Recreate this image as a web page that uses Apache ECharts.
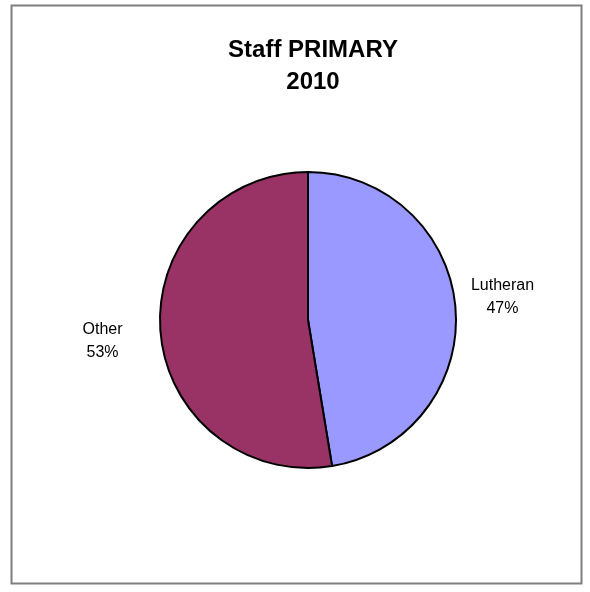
<!DOCTYPE html>
<html>
<head>
<meta charset="utf-8">
<script src="https://cdn.jsdelivr.net/npm/echarts@6/dist/echarts.min.js"></script>
<style>
html,body{margin:0;padding:0;background:#fff;}
#chart{width:590px;height:592px;}
</style>
</head>
<body>
<div id="chart"></div>
<script>
var titleText = 'Staff PRIMARY\n2010';
var categories = ['Lutheran', 'Other'];
var values = [47.4, 52.6];
var colors = ['#9999FF', '#993366'];

// per-slice label placement (style only)
var labelLineLengths = [6, 17];
var labelPaddings = [[0, 0, 20, 0], [15, 0, 0, 0]];

var FONT = 'Liberation Sans, Arial, sans-serif';
var chart = echarts.init(document.getElementById('chart'), null, {renderer: 'canvas'});
var data = categories.map(function (c, i) {
  return {
    name: c,
    value: values[i],
    itemStyle: {color: colors[i]},
    label: {padding: labelPaddings[i]},
    labelLine: {length: labelLineLengths[i]}
  };
});
chart.setOption({
  animation: false,
  backgroundColor: '#ffffff',
  graphic: [{
    type: 'rect',
    shape: {x: 11.5, y: 5.5, width: 570, height: 578},
    style: {fill: 'none', stroke: '#7f7f7f', lineWidth: 2}
  }],
  title: {
    text: titleText,
    left: 308,
    textAlign: 'center',
    top: 29,
    textStyle: {fontFamily: FONT, fontWeight: 'bold', fontSize: 24, lineHeight: 32, color: '#000'}
  },
  series: [{
    type: 'pie',
    center: [308, 320],
    radius: 148,
    startAngle: 90,
    clockwise: true,
    data: data,
    itemStyle: {borderColor: '#000', borderWidth: 2},
    label: {
      show: true,
      position: 'outside',
      formatter: function (p) { return '{a|' + p.name + '}\n{a|' + Math.round(p.percent) + '%}'; },
      rich: {
        a: {width: 72, align: 'center', fontFamily: FONT, fontSize: 16, lineHeight: 23, color: '#000'}
      },
      fontFamily: FONT,
      fontSize: 16,
      lineHeight: 23,
      color: '#000'
    },
    labelLine: {show: false, length2: 0},
    emphasis: {disabled: true}
  }]
});
</script>
</body>
</html>
